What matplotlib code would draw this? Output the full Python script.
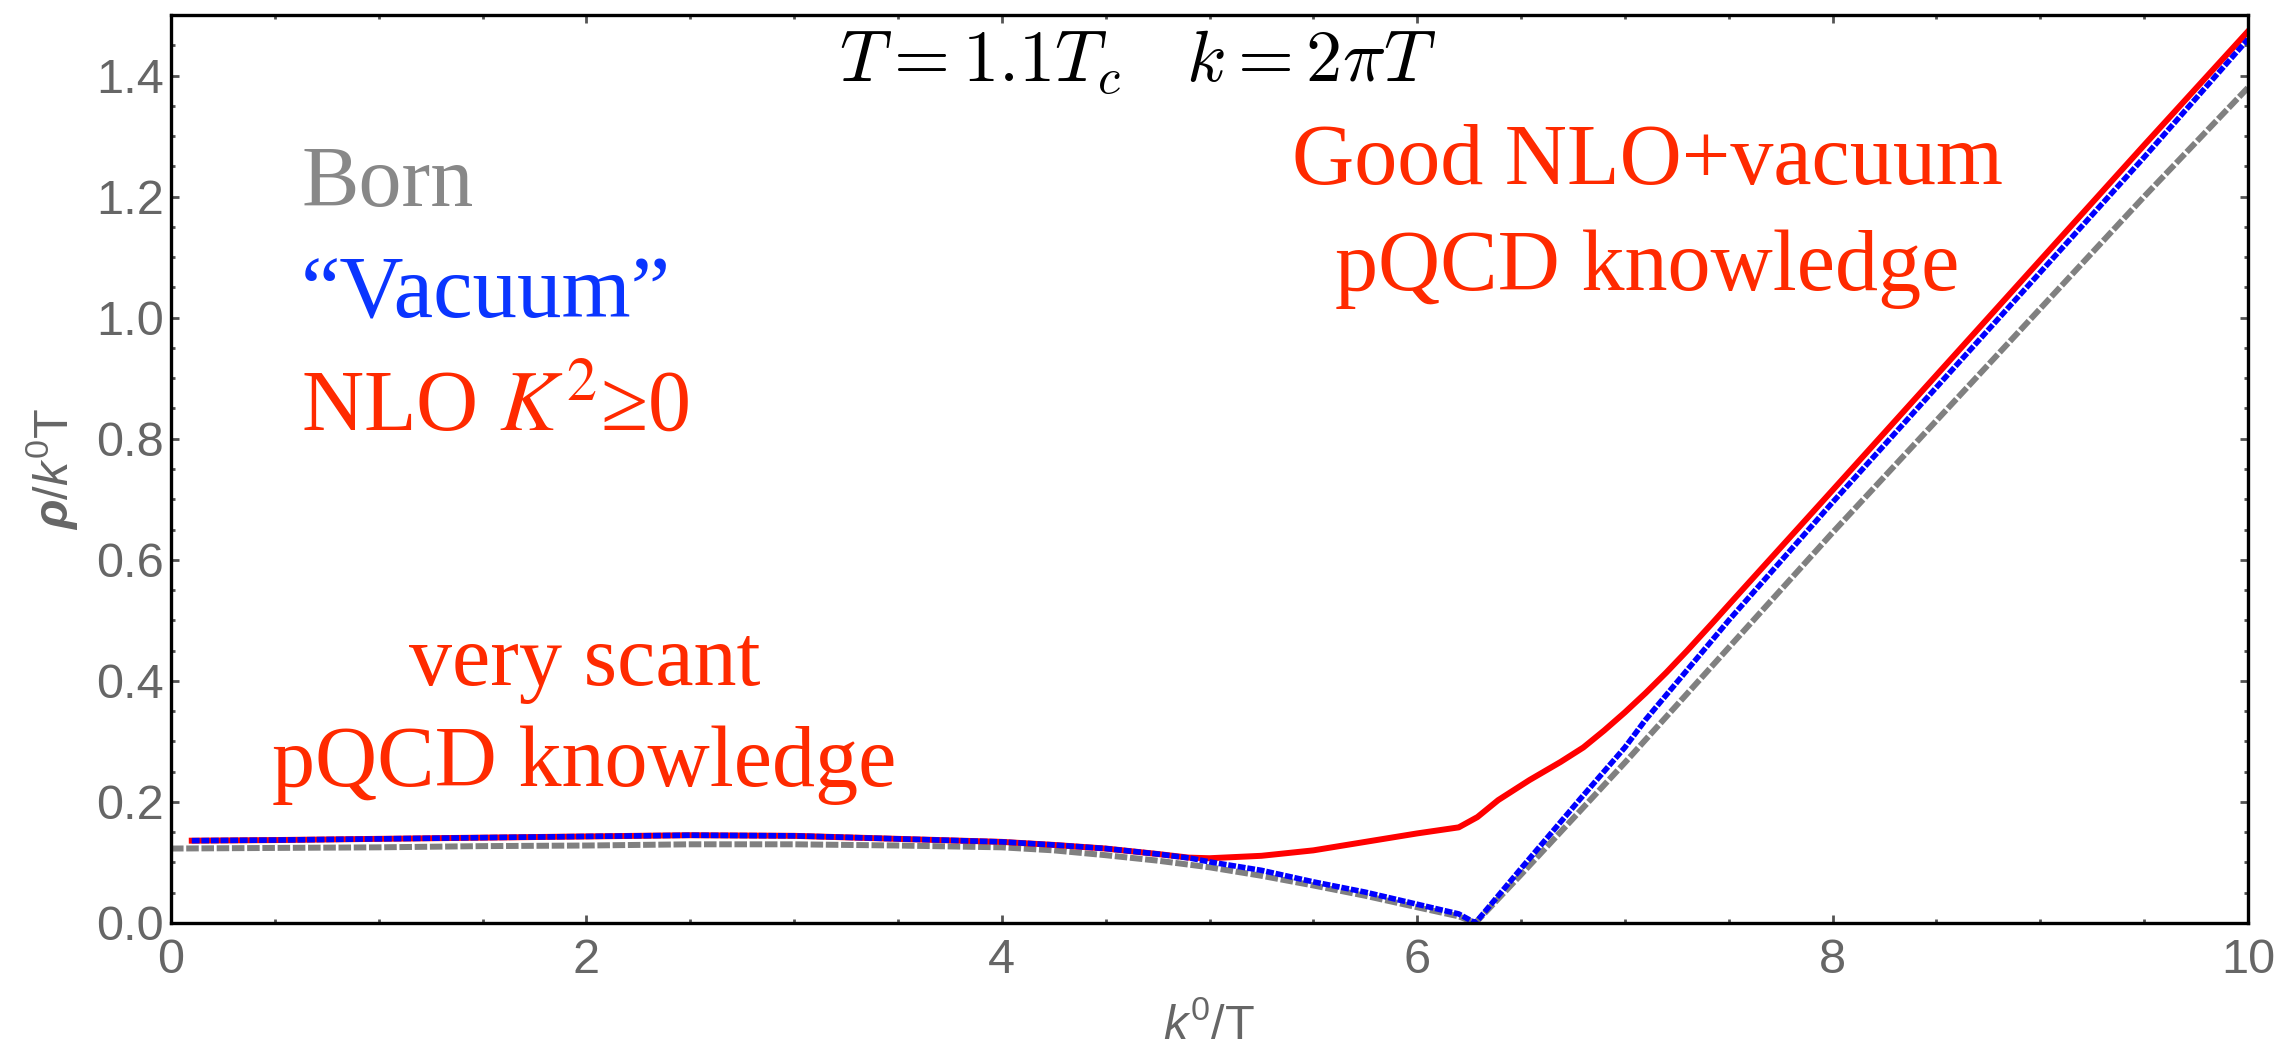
import numpy as np
import matplotlib
matplotlib.use("Agg")
import matplotlib.pyplot as plt
from matplotlib.ticker import MultipleLocator

# values (x = k0/T, y = rho/(k0 T))
k0_born = [0.0, 0.5, 1.0, 1.5, 2.0, 2.5, 3.0, 3.5, 4.0, 4.25, 4.5, 4.75, 5.0,
           5.25, 5.5, 5.75, 6.0, 6.2, 6.28, 6.5, 7.0, 7.5, 8.0, 8.5, 9.0,
           9.5, 10.0]
born = [0.123, 0.124, 0.125, 0.127, 0.128, 0.130, 0.130, 0.128, 0.125, 0.120,
        0.112, 0.103, 0.092, 0.078, 0.062, 0.045, 0.026, 0.011, 0.0, 0.080,
        0.265, 0.455, 0.645, 0.830, 1.015, 1.200, 1.380]

k0_vac = [0.1, 0.5, 1.0, 1.5, 2.0, 2.5, 3.0, 3.5, 4.0, 4.25, 4.5, 4.75, 4.91,
          5.0, 5.25, 5.5, 5.75, 6.0, 6.2, 6.28, 6.5, 6.78, 7.0, 7.1, 7.5,
          8.0, 8.5, 9.0, 9.5, 10.0]
vacuum = [0.136, 0.137, 0.139, 0.141, 0.143, 0.145, 0.144, 0.139, 0.134,
          0.129, 0.123, 0.114, 0.107, 0.101, 0.087, 0.068, 0.051, 0.031,
          0.015, 0.0, 0.090, 0.203, 0.290, 0.336, 0.500, 0.695, 0.885,
          1.075, 1.265, 1.460]

k0_nlo = [0.1, 0.5, 1.0, 1.5, 2.0, 2.5, 3.0, 3.5, 4.0, 4.25, 4.5, 4.75, 4.9,
          5.0, 5.25, 5.5, 5.75, 6.0, 6.2, 6.29, 6.39, 6.54, 6.69, 6.8, 6.9,
          7.0, 7.1, 7.2, 7.3, 7.42, 7.53, 8.0, 8.5, 9.0, 9.5, 10.0]
nlo = [0.136, 0.137, 0.139, 0.141, 0.143, 0.145, 0.144, 0.139, 0.134, 0.129,
       0.123, 0.114, 0.108, 0.107, 0.111, 0.120, 0.134, 0.148, 0.158, 0.175,
       0.203, 0.236, 0.266, 0.290, 0.318, 0.348, 0.380, 0.414, 0.450, 0.495,
       0.537, 0.715, 0.905, 1.095, 1.285, 1.473]

x_ticks = [0, 2, 4, 6, 8, 10]
y_ticks = [0.0, 0.2, 0.4, 0.6, 0.8, 1.0, 1.2, 1.4]

plt.rcParams['mathtext.fontset'] = 'custom'
plt.rcParams['mathtext.rm'] = 'Liberation Sans'
plt.rcParams['mathtext.it'] = 'Liberation Sans:italic'
plt.rcParams['mathtext.bf'] = 'Liberation Sans:bold:italic'

fig = plt.figure(figsize=(22.96, 10.56), dpi=100)
ax = fig.add_axes([171/2296, 1 - 923/1056, 2077/2296, 908/1056])

ax.plot(k0_born, born, color='#808080', lw=4.3, ls=(0, (2.1, 0.45)),
        solid_capstyle='butt', dash_capstyle='butt')
ax.plot(k0_nlo, nlo, color='#ff0000', lw=4.3)
ax.plot(k0_vac, vacuum, color='#0000ff', lw=4.0, ls=(0, (1.4, 0.33)),
        dash_capstyle='butt')

ax.set_xlim(0, 10)
ax.set_ylim(0, 1.5)
ax.set_xticks(x_ticks)
ax.set_yticks(y_ticks)
ax.set_xticklabels([str(v) for v in x_ticks])
ax.set_yticklabels(["%.1f" % v for v in y_ticks])
ax.xaxis.set_minor_locator(MultipleLocator(0.5))
ax.yaxis.set_minor_locator(MultipleLocator(0.05))

for s in ax.spines.values():
    s.set_linewidth(2.4)
    s.set_color('black')

ax.tick_params(which='both', direction='in', top=True, right=True,
               color='#555555', width=2.0)
ax.tick_params(which='major', length=5.5, labelsize=35,
               labelcolor='#666666')
ax.tick_params(axis='x', which='major', pad=11)
ax.tick_params(axis='y', which='major', pad=5)
ax.tick_params(which='minor', length=3)
for lab in ax.get_xticklabels() + ax.get_yticklabels():
    lab.set_family('Liberation Sans')

ax.set_xlabel(r'$k^0$/T', fontsize=35, color='#666666',
              family='Liberation Sans', math_fontfamily='custom')
ax.set_ylabel(r'$\mathbf{\rho}$/$k^0$T', fontsize=35, color='#666666',
              family='Liberation Sans', math_fontfamily='custom')
ax.xaxis.set_label_coords(0.5, -0.088)
ax.yaxis.set_label_coords(-0.044, 0.5)

serif = ['Liberation Serif', 'DejaVu Serif']
fs = 62
ax.text(4.656, 1.39, r'$T = 1.1T_c \quad k = 2\pi T$', fontsize=52,
        ha='center', va='baseline', color='black', math_fontfamily='cm')
ax.text(0.626, 1.185, 'Born', fontsize=fs, family=serif, color='#888888',
        ha='left', va='baseline')
ax.text(0.626, 1.0, '\u201cVacuum\u201d', fontsize=fs + 2, family=serif,
        color='#0a35ff', ha='left', va='baseline')
ax.text(0.626, 0.814, 'NLO $K^2$\u22650', fontsize=fs, family=serif,
        color='#ff2a00', ha='left', va='baseline', math_fontfamily='stix')
ax.text(1.99, 0.393, 'very scant', fontsize=fs, family=serif,
        color='#ff2a00', ha='center', va='baseline')
ax.text(1.99, 0.226, 'pQCD knowledge', fontsize=fs, family=serif,
        color='#ff2a00', ha='center', va='baseline')
ax.text(7.107, 1.221, 'Good NLO+vacuum', fontsize=fs, family=serif,
        color='#ff2a00', ha='center', va='baseline')
ax.text(7.107, 1.046, 'pQCD knowledge', fontsize=fs, family=serif,
        color='#ff2a00', ha='center', va='baseline')

fig.savefig('out.png', dpi=100)
